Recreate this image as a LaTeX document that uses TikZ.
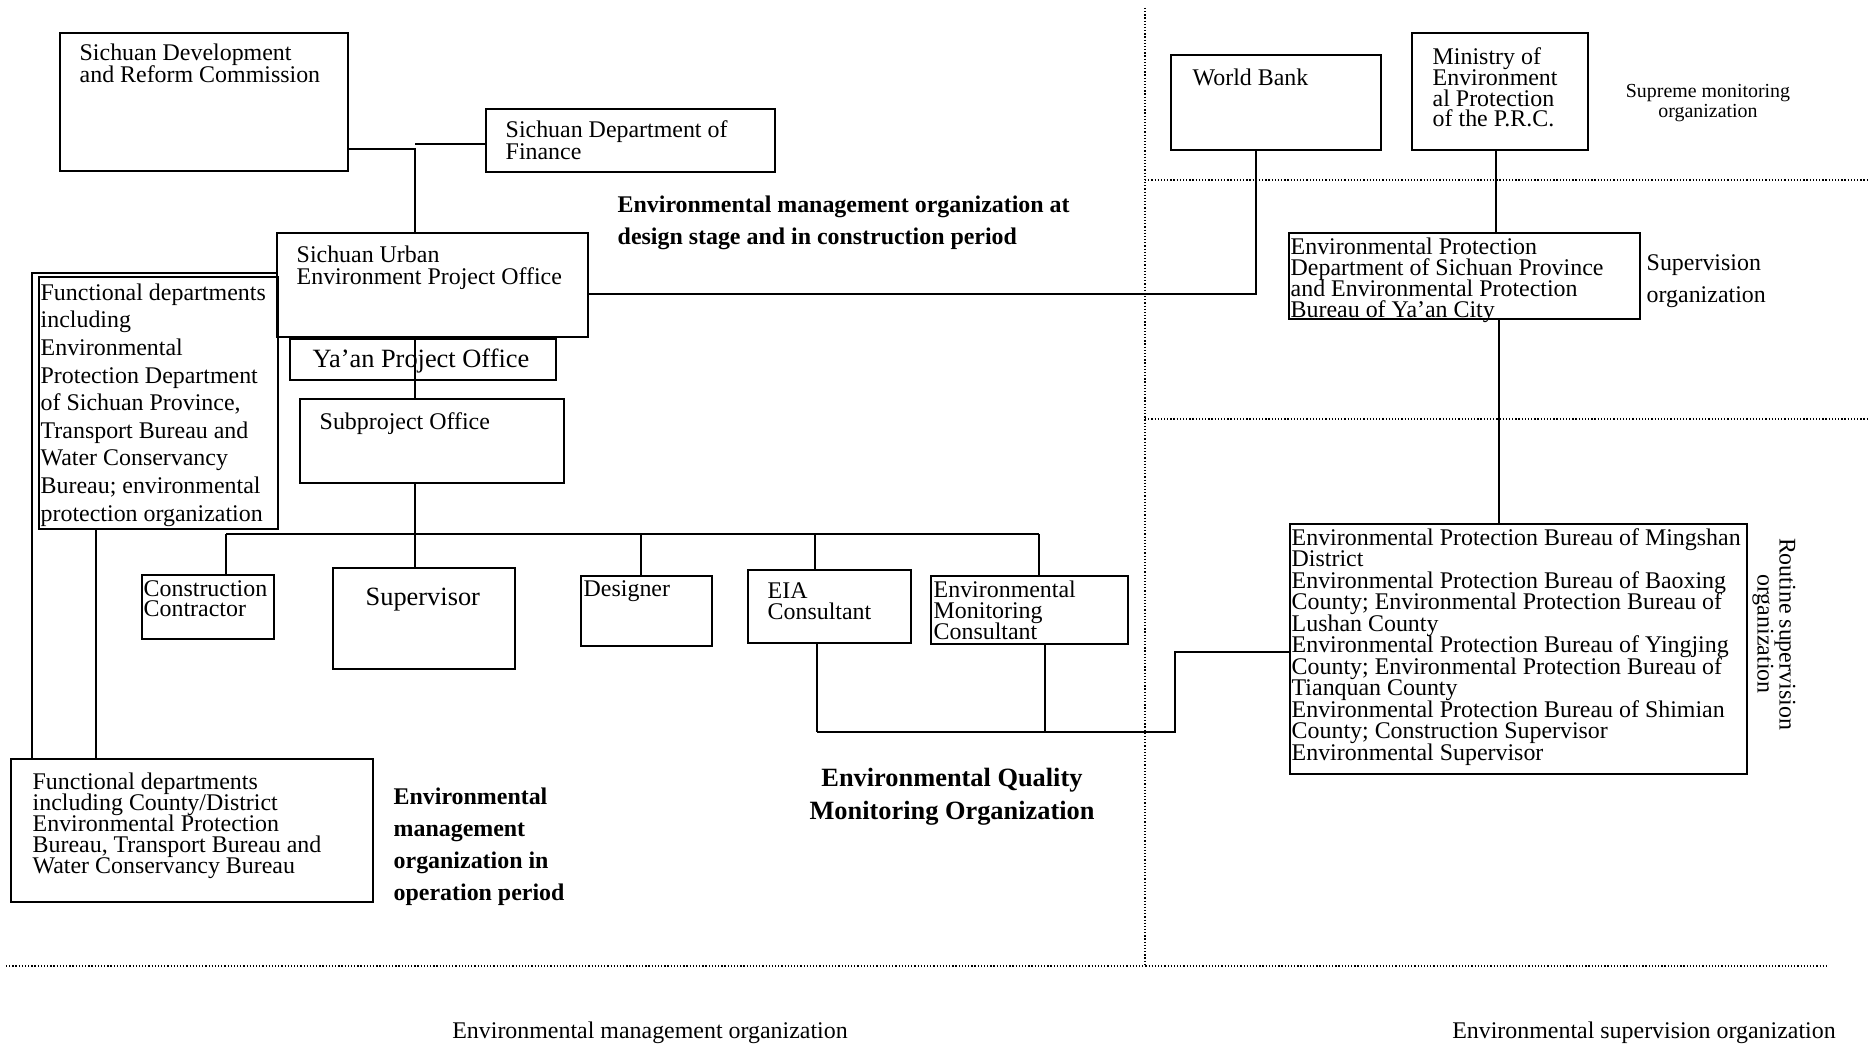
\documentclass[tikz,border=0pt]{standalone}
\usepackage{fontspec}
\setmainfont{Liberation Serif}
\usetikzlibrary{positioning,calc}
\lineskiplimit=-\maxdimen

\tikzset{
  box/.style={draw, line width=0.55pt, anchor=north west, inner sep=0pt},
  txt/.style={anchor=north west, inner sep=0pt, align=left, font=\fontsize{6.8}{6.2}\selectfont},
  bigtxt/.style={txt, font=\fontsize{7.5}{8}\selectfont},
  head/.style={txt, font=\fontsize{6.8}{9.1}\selectfont\bfseries},
  link/.style={line width=0.45pt},
  sep/.style={line width=0.35pt, dash pattern=on 0.35pt off 0.55pt}
}

\begin{document}
\begin{tikzpicture}[x=0.01cm, y=-0.01cm]
    \useasboundingbox (0,0) rectangle (1869,1046);

    % separators between the organizations
    \draw[sep] (1145,8) -- (1145,966);
    \draw[sep] (6,966) -- (1827,966);
    \draw[sep] (1145,180) -- (1869,180);
    \draw[sep] (1145,419) -- (1869,419);

    % management side
    \node[box, minimum width=2.88cm, minimum height=1.38cm] (sdrc) at (59,32) {};
    \node[txt, font=\fontsize{6.8}{6.26}\selectfont] (sdrc-t) at (79,43) {Sichuan Development\\and Reform Commission};
    \node[box, minimum width=2.89cm, minimum height=0.63cm] (fin) at (485,108) {};
    \node[txt, font=\fontsize{6.8}{6.26}\selectfont] (fin-t) at (505,120) {Sichuan Department of\\Finance};
    \node[box, minimum width=3.11cm, minimum height=1.04cm] (urban) at (276,232) {};
    \node[txt, font=\fontsize{6.8}{6.26}\selectfont] (urban-t) at (296,245) {Sichuan Urban\\Environment Project Office};
    \node[box, minimum width=2.66cm, minimum height=0.41cm] (yaan) at (289,338) {};
    \node[bigtxt] (yaan-t) at (312,348) {Ya’an Project Office};
    \node[box, minimum width=2.64cm, minimum height=0.84cm] (sub) at (299,398) {};
    \node[txt] (sub-t) at (319,412) {Subproject Office};
    \node[box, minimum width=2.39cm, minimum height=2.52cm] (func) at (38,276) {};
    \node[txt, font=\fontsize{6.8}{7.85}\selectfont] (func-t) at (40,283) {Functional departments\\including\\Environmental\\Protection Department\\of Sichuan Province,\\Transport Bureau and\\Water Conservancy\\Bureau; environmental\\protection organization};

    \node[box, minimum width=1.32cm, minimum height=0.64cm] (cc) at (141,574) {};
    \node[txt, font=\fontsize{6.8}{5.8}\selectfont] (cc-t) at (143,580) {Construction\\Contractor};
    \node[box, minimum width=1.82cm, minimum height=1.01cm] (supv) at (332,567) {};
    \node[bigtxt] (supv-t) at (365,587) {Supervisor};
    \node[box, minimum width=1.31cm, minimum height=0.70cm] (des) at (580,575) {};
    \node[txt] (des-t) at (583,580) {Designer};
    \node[box, minimum width=1.63cm, minimum height=0.73cm] (eia) at (747,569) {};
    \node[txt, font=\fontsize{6.8}{5.97}\selectfont] (eia-t) at (767,582) {EIA\\Consultant};
    \node[box, minimum width=1.97cm, minimum height=0.68cm] (emc) at (930,575) {};
    \node[txt, font=\fontsize{6.8}{5.97}\selectfont] (emc-t) at (933,580) {Environmental\\Monitoring\\Consultant};

    \node[box, minimum width=3.62cm, minimum height=1.43cm] (op) at (10,758) {};
    \node[txt, font=\fontsize{6.8}{5.97}\selectfont] (op-t) at (32,772) {Functional departments\\including County/District\\Environmental Protection\\Bureau, Transport Bureau and\\Water Conservancy Bureau};

    % supervision side
    \node[box, minimum width=2.10cm, minimum height=0.95cm] (wb) at (1170,54) {};
    \node[txt] (wb-t) at (1192,68) {World Bank};
    \node[box, minimum width=1.76cm, minimum height=1.17cm] (mep) at (1411,32) {};
    \node[txt, font=\fontsize{6.8}{5.9}\selectfont] (mep-t) at (1432,47) {Ministry of\\Environment\\al Protection\\of the P.R.C.};
    \node[box, minimum width=3.51cm, minimum height=0.86cm] (epd) at (1288,232) {};
    \node[txt, font=\fontsize{6.8}{6.0}\selectfont] (epd-t) at (1290,237) {Environmental Protection\\Department of Sichuan Province\\and Environmental Protection\\Bureau of Ya’an City};
    \node[box, minimum width=4.57cm, minimum height=2.50cm] (rtn) at (1289,523) {};
    \node[txt, font=\fontsize{6.8}{6.1}\selectfont] (rtn-t) at (1291,528) {Environmental Protection Bureau of Mingshan\\District\\Environmental Protection Bureau of Baoxing\\County; Environmental Protection Bureau of\\Lushan County\\Environmental Protection Bureau of Yingjing\\County; Environmental Protection Bureau of\\Tianquan County\\Environmental Protection Bureau of Shimian\\County; Construction Supervisor\\Environmental Supervisor};

    % group labels
    \node[head] (design-lab) at (617,195) {Environmental management organization at\\design stage and in construction period};
    \node[head] (oper-lab) at (393,787) {Environmental\\management\\organization in\\operation period};
    \node[head, anchor=north, align=center, font=\fontsize{7.5}{9.4}\selectfont\bfseries] (eqmo-lab) at (952,767) {Environmental Quality\\Monitoring Organization};
    \node[txt, anchor=north, align=center, font=\fontsize{5.66}{5.7}\selectfont] (supreme-lab) at (1708,84) {Supreme monitoring\\organization};
    \node[txt, font=\fontsize{6.8}{9.1}\selectfont] (suporg-lab) at (1646,254) {Supervision\\organization};
    \node[txt, anchor=center, align=center, rotate=-90, font=\fontsize{6.8}{6.26}\selectfont] (rtn-lab) at (1774,634) {Routine supervision\\organization};
    \node[txt, anchor=center] (mgmt-lab) at (650,1033) {Environmental management organization};
    \node[txt, anchor=center] (sup-lab) at (1644,1033) {Environmental supervision organization};

    % connectors
    \coordinate (j1) at (415,149);
    \coordinate (j2) at (415,144);
    \draw[link, line width=0.55pt] (sdrc.east |- j1) -- (j1) -- (urban.north -| j1);
    \draw[link] (fin.west |- j2) -- (j2);
    \draw[link] (urban.south -| j1) -- (sub.north -| j1);
    \draw[link] (sub.south -| j1) -- (supv.north -| j1);

    \coordinate (bl) at (226,534);
    \coordinate (bd) at (641,534);
    \coordinate (be) at (815,534);
    \coordinate (br) at (1039,534);
    \draw[link] (bl) -- (br);
    \draw[link] (bl) -- (cc.north -| bl);
    \draw[link] (bd) -- (des.north -| bd);
    \draw[link] (be) -- (eia.north -| be);
    \draw[link] (br) -- (emc.north -| br);

    \coordinate (m1) at (817,732);
    \coordinate (m2) at (1175,732);
    \coordinate (m3) at (1175,652);
    \coordinate (m4) at (1045,732);
    \draw[link] (eia.south -| m1) -- (m1);
    \draw[link, line width=0.55pt] (m1) -- (m2) -- (m3) -- (rtn.west |- m3);
    \draw[link] (emc.south -| m4) -- (m4);

    \coordinate (w1) at (1256,294);
    \draw[link, line width=0.55pt] (urban.east |- w1) -- (w1) -- (wb.south -| w1);
    \coordinate (p1) at (1496,190);
    \draw[link] (mep.south -| p1) -- (epd.north -| p1);
    \coordinate (p2) at (1499,400);
    \draw[link] (epd.south -| p2) -- (rtn.north -| p2);

    \coordinate (l1) at (32,273);
    \draw[link] (urban.west |- l1) -- (l1) -- (op.north -| l1);
    \coordinate (l2) at (96,600);
    \draw[link] (func.south -| l2) -- (op.north -| l2);
\end{tikzpicture}
\end{document}
